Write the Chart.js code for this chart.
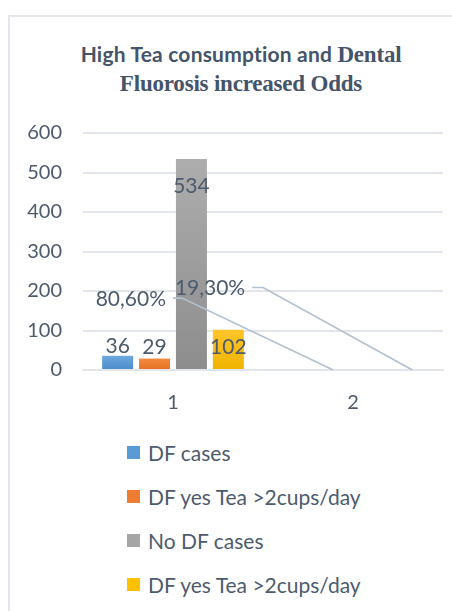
<!DOCTYPE html>
<html>
<head>
<meta charset="utf-8">
<script src="https://cdn.jsdelivr.net/npm/chart.js@4/dist/chart.umd.min.js"></script>
<style>
    html, body { margin: 0; padding: 0; background: #fff; }
    body { width: 452px; height: 611px; overflow: hidden; position: relative; }
    #frame {
        position: absolute; left: 8px; top: 15px; width: 480px; height: 640px;
        border-left: 2px solid #e3e6ec; border-top: 2px solid #e3e6ec;
    }
    .title {
        position: absolute; left: 10px; width: 462px; text-align: center;
        color: #44546a; font-weight: bold; white-space: nowrap; line-height: 30px;
    }
    .sans { font-family: Lato, sans-serif; font-size: 21px; letter-spacing: 0.2px; }
    .serif { font-family: "Liberation Serif", serif; font-size: 23px; letter-spacing: -0.2px; }
    #chartBox { position: absolute; left: 0; top: 100px; }
    #legend {
        position: absolute; left: 127px; top: 430px; margin: 0; padding: 0; list-style: none;
        font-family: Lato, sans-serif; font-size: 21px; color: #4d5b6e;
    }
    #legend li { height: 44px; display: flex; align-items: center; }
    #legend span.box { width: 13px; height: 13px; margin-right: 8px; display: inline-block; }
</style>
</head>
<body>
<div id="frame"></div>
<div class="title" style="top: 39px;"><span class="sans">High Tea consumption and </span><span class="serif">Dental</span></div>
<div class="title" style="top: 69px;"><span class="serif">Fluorosis increased Odds</span></div>
<div id="chartBox"><canvas id="chart" width="452" height="320"></canvas></div>
<ul id="legend"></ul>

<script>
    "use strict";

    // data
    var categories = ['1', '2'];
    var seriesNames = ['DF cases', 'DF yes Tea >2cups/day', 'No DF cases', 'DF yes Tea >2cups/day'];
    var dfCases = [36, null];
    var dfTeaMore = [29, null];
    var noDfCases = [534, null];
    var dfTeaMore2 = [102, null];
    var yTicks = [0, 100, 200, 300, 400, 500, 600];

    // share labels and their leader lines (x in category index units, y in axis units)
    var shareLabels = ['80,60%', '19,30%'];
    var leaderA = [{ x: 0, y: 182 }, { x: 0.05, y: 182 }, { x: 0.89, y: 0 }];
    var leaderB = [{ x: 0.44, y: 209 }, { x: 0.5, y: 209 }, { x: 1.33, y: 0 }];
    var leaders = [leaderA, leaderB];

    var textColor = '#4d5b6e';
    var gridColor = '#e2e6ec';

    function barGradient(top, bottom) {
        return function (ctx) {
            var chart = ctx.chart;
            if (!chart.chartArea || ctx.raw == null) return bottom;
            var y = chart.scales.y;
            var g = chart.ctx.createLinearGradient(0, y.getPixelForValue(ctx.raw), 0, y.getPixelForValue(0));
            g.addColorStop(0, top);
            g.addColorStop(1, bottom);
            return g;
        };
    }

    function barSet(name, values, top, bottom, swatch, shift, stack) {
        return {
            type: 'bar',
            label: name,
            data: values,
            backgroundColor: barGradient(top, bottom),
            swatch: swatch,
            labelShift: shift,
            stack: stack,
            categoryPercentage: 0.82,
            barPercentage: 0.84
        };
    }

    // pixel position of a fractional category index, through the x scale
    function catPixel(scale, v) {
        var p0 = scale.getPixelForValue(0);
        var p1 = scale.getPixelForValue(1);
        return p0 + v * (p1 - p0);
    }

    var leaderLines = {
        id: 'leaderLines',
        afterDatasetsDraw: function (chart) {
            var ctx = chart.ctx;
            var xs = chart.scales.x, ys = chart.scales.y;
            ctx.save();
            ctx.strokeStyle = '#b3c0cf';
            ctx.lineWidth = 1.6;
            leaders.forEach(function (pts, k) {
                ctx.beginPath();
                pts.forEach(function (p, i) {
                    var px = catPixel(xs, p.x), py = ys.getPixelForValue(p.y);
                    if (i === 0) ctx.moveTo(px, py); else ctx.lineTo(px, py);
                });
                ctx.stroke();
                ctx.fillStyle = textColor;
                ctx.font = '21px Lato, sans-serif';
                ctx.textAlign = 'right';
                ctx.textBaseline = 'middle';
                ctx.fillText(shareLabels[k], catPixel(xs, pts[0].x) - 7, ys.getPixelForValue(pts[0].y) + 1);
            });
            ctx.restore();
        }
    };

    var valueLabels = {
        id: 'valueLabels',
        afterDatasetsDraw: function (chart) {
            var ctx = chart.ctx;
            ctx.save();
            ctx.fillStyle = textColor;
            ctx.font = '21px Lato, sans-serif';
            ctx.textBaseline = 'middle';
            ctx.textAlign = 'center';
            chart.data.datasets.forEach(function (ds, i) {
                var meta = chart.getDatasetMeta(i);
                meta.data.forEach(function (bar, j) {
                    if (ds.data[j] == null) return;
                    ctx.fillText(String(ds.data[j]), bar.x, bar.y + ds.labelShift);
                });
            });
            ctx.restore();
        }
    };

    var chart = new Chart(document.getElementById('chart').getContext('2d'), {
        type: 'bar',
        data: {
            labels: categories,
            datasets: [
                barSet(seriesNames[0], dfCases, '#6da8de', '#4a8bcb', '#5b9bd5', -10, 's1'),
                barSet(seriesNames[1], dfTeaMore, '#f28a40', '#e4701f', '#ed7d31', -11, 's2'),
                barSet(seriesNames[2], noDfCases, '#adadad', '#8d8d8d', '#a5a5a5', 27, 's3'),
                barSet(seriesNames[3], dfTeaMore2, '#ffc52a', '#efb300', '#ffc000', 18, 's4')
            ]
        },
        options: {
            responsive: false,
            animation: false,
            layout: { padding: { top: 29, right: 9, left: 0, bottom: 0 } },
            plugins: {
                legend: { display: false },
                tooltip: { enabled: false },
                title: { display: false }
            },
            scales: {
                x: {
                    grid: { display: false, drawTicks: false },
                    border: { display: true, color: gridColor, width: 2 },
                    ticks: { color: textColor, font: { family: 'Lato', size: 20 }, padding: 21 },
                    afterFit: function (scale) { scale.height = 50; }
                },
                y: {
                    min: 0,
                    max: 600,
                    afterBuildTicks: function (scale) {
                        scale.ticks = yTicks.map(function (v) { return { value: v }; });
                    },
                    grid: { color: gridColor, lineWidth: 2, drawTicks: false },
                    border: { display: false },
                    ticks: { color: textColor, font: { family: 'Lato', size: 20 }, padding: 21 },
                    afterFit: function (scale) { scale.width = 83; }
                }
            }
        },
        plugins: [leaderLines, valueLabels]
    });

    // html legend, vertical like the original
    var legendEl = document.getElementById('legend');
    chart.data.datasets.forEach(function (ds) {
        var li = document.createElement('li');
        var box = document.createElement('span');
        box.className = 'box';
        box.style.background = ds.swatch;
        li.appendChild(box);
        li.appendChild(document.createTextNode(ds.label));
        legendEl.appendChild(li);
    });
</script>
</body>
</html>
